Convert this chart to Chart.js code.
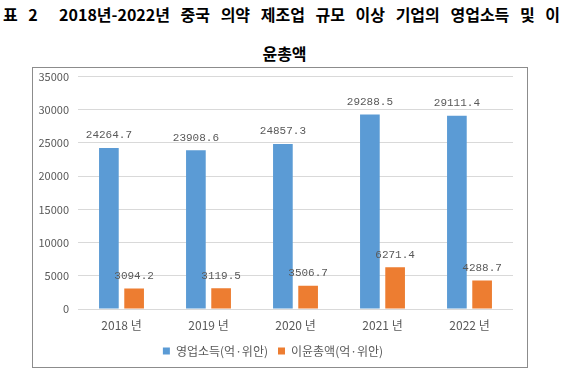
<!DOCTYPE html>
<html>
<head>
<meta charset="utf-8">
<script src="https://cdn.jsdelivr.net/npm/chart.js@4"></script>
<style>
  body { margin: 0; width: 569px; height: 373px; background: #fff; position: relative; overflow: hidden; }
  .title { position: absolute; left: 0; width: 569px; font-family: "Noto Sans CJK KR", sans-serif; font-weight: bold; font-size: 16px; color: #000; white-space: nowrap; }
  #t1 { top: 2px; left: 3px; word-spacing: 7px; }
  #t2 { top: 41px; text-align: center; }
  #box { position: absolute; left: 32px; top: 67px; width: 494px; height: 299px; border: 1px solid #8c8c8c; }
  #inner { position: absolute; left: 0; top: -7px; width: 494px; height: 306px; }
</style>
</head>
<body>
<div class="title" id="t1">표 2&nbsp; 2018년-2022년 중국 의약 제조업 규모 이상 기업의 영업소득 및 이</div>
<div class="title" id="t2">윤총액</div>
<div id="box"><div id="inner"><canvas id="chart"></canvas></div></div>
<script>
// 연도별 데이터 (억 위안)
const years = ['2018 년', '2019 년', '2020 년', '2021 년', '2022 년'];
const revenue = [24264.7, 23908.6, 24857.3, 29288.5, 29111.4];
const profit = [3094.2, 3119.5, 3506.7, 6271.4, 4288.7];
const seriesNames = ['영업소득(억·위안)', '이윤총액(억·위안)'];
const yTicks = [0, 5000, 10000, 15000, 20000, 25000, 30000, 35000];

const labelFont = '"Noto Sans CJK KR", sans-serif';

// 막대 위에 값 표시
const valueLabels = {
    id: 'valueLabels',
    afterDatasetsDraw(chart) {
        const ctx = chart.ctx;
        ctx.save();
        ctx.font = '11px "Liberation Mono", monospace';
        ctx.fillStyle = '#595959';
        ctx.textAlign = 'center';
        ctx.textBaseline = 'bottom';
        chart.data.datasets.forEach((ds, i) => {
            chart.getDatasetMeta(i).data.forEach((bar, j) => {
                ctx.fillText(ds.data[j].toFixed(1), bar.x, bar.y - 7);
            });
        });
        ctx.restore();
    }
};

new Chart(document.getElementById('chart').getContext('2d'), {
    type: 'bar',
    data: {
        labels: years,
        datasets: [
            { label: seriesNames[0], data: revenue, backgroundColor: '#5b9bd5' },
            { label: seriesNames[1], data: profit, backgroundColor: '#ed7d31' }
        ]
    },
    options: {
        responsive: true, maintainAspectRatio: false, animation: false,
        layout: { autoPadding: false, padding: { left: 0, right: 14, top: 2, bottom: 0 } },
        datasets: { bar: { categoryPercentage: 0.58, barPercentage: 0.78 } },
        scales: {
            x: {
                grid: { display: false, drawTicks: false },
                border: { display: false },
                ticks: { color: '#595959', font: { family: labelFont, size: 12 }, padding: 9 },
                afterFit: (s) => { s.height = 26; }
            },
            y: {
                min: 0, max: 35000,
                afterBuildTicks: (s) => { s.ticks = yTicks.map(v => ({ value: v })); },
                grid: { color: '#d9d9d9', drawTicks: false },
                border: { display: false },
                ticks: { color: '#595959', font: { family: labelFont, size: 11 }, padding: 9, callback: (v) => String(v) },
                afterFit: (s) => { s.width = 45; }
            }
        },
        plugins: {
            legend: {
                position: 'bottom',
                labels: { color: '#595959', font: { family: labelFont, size: 12 }, boxWidth: 7, boxHeight: 7, padding: 10 }
            },
            tooltip: { enabled: false }
        }
    },
    plugins: [valueLabels]
});
</script>
</body>
</html>
